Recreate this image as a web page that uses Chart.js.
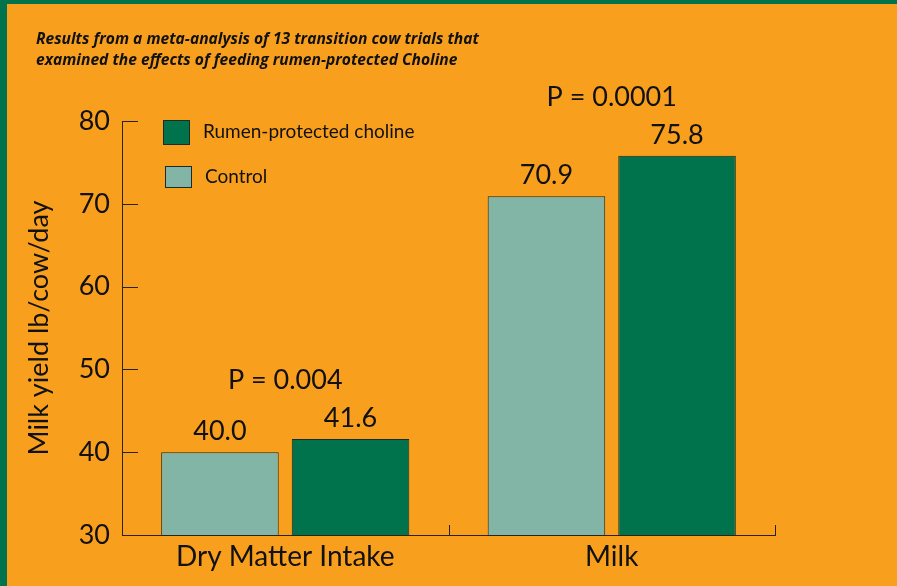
<!DOCTYPE html>
<html>
<head>
<meta charset="utf-8">
<script src="https://cdn.jsdelivr.net/npm/chart.js@4"></script>
<style>
  html, body { margin: 0; padding: 0; background: #F99F1E; }
  #wrap { width: 897px; height: 586px; }
</style>
</head>
<body>
<div id="wrap"><canvas id="c" width="897" height="586"></canvas></div>
<script>
/* choline meta-analysis chart */

const categories = ['Dry Matter Intake', 'Milk'];
const controlValues = [40.0, 70.9];
const cholineValues = [41.6, 75.8];
const pLabels = ['P = 0.004', 'P = 0.0001'];
const yTicks = [30, 40, 50, 60, 70, 80];
const titleLines = [
    'Results from a meta-analysis of 13 transition cow trials that',
    'examined the effects of feeding rumen-protected Choline'
];

const ORANGE = '#F99F1E';
const GREEN = '#00734C';
const LIGHT = '#82B5A5';
const INK = '#111111';
const FONT = 'Lato, "Noto Sans", sans-serif';

const decor = {
    id: 'decor',
    beforeDraw(chart) {
        const ctx = chart.ctx;
        ctx.save();
        ctx.fillStyle = ORANGE;
        ctx.fillRect(0, 0, chart.width, chart.height);
        ctx.fillStyle = GREEN;
        ctx.fillRect(0, 0, chart.width, 4);
        ctx.fillRect(0, 0, 7, chart.height);

        // heading
        ctx.fillStyle = INK;
        ctx.font = 'italic bold 15.6px "Open Sans", sans-serif';
        ctx.textBaseline = 'alphabetic';
        ctx.textAlign = 'left';
        titleLines.forEach((t, i) => ctx.fillText(t, 36, 44 + i * 21));
        ctx.restore();
    },
    afterDraw(chart) {
        const ctx = chart.ctx;
        const y = chart.scales.y, x = chart.scales.x;
        const area = chart.chartArea;
        ctx.save();
        ctx.strokeStyle = '#2a2418';
        ctx.lineWidth = 1;

        // y ticks point inward
        yTicks.forEach(v => {
            const py = Math.round(y.getPixelForValue(v)) + 0.5;
            ctx.beginPath();
            ctx.moveTo(area.left, py);
            ctx.lineTo(area.left + 16, py);
            ctx.stroke();
        });

        // category boundary ticks on x axis
        const bounds = [];
        for (let i = 1; i < categories.length; i++) {
            bounds.push((x.getPixelForValue(i - 1) + x.getPixelForValue(i)) / 2);
        }
        bounds.push(area.right);
        bounds.forEach(bx => {
            const px = Math.round(bx) + 0.5;
            ctx.beginPath();
            ctx.moveTo(px, area.bottom);
            ctx.lineTo(px, area.bottom - 10);
            ctx.stroke();
        });

        // value labels
        ctx.fillStyle = INK;
        ctx.font = '27px ' + FONT;
        ctx.textAlign = 'center';
        ctx.textBaseline = 'alphabetic';
        chart.data.datasets.forEach((ds, di) => {
            chart.getDatasetMeta(di).data.forEach((bar, i) => {
                ctx.fillText(ds.data[i].toFixed(1), bar.x, bar.y - 12);
            });
        });

        // P values above each group
        categories.forEach((c, i) => {
            const top = Math.min(...chart.data.datasets.map((ds, di) => chart.getDatasetMeta(di).data[i].y));
            ctx.fillText(pLabels[i], x.getPixelForValue(i), top - 50);
        });

        // legend
        const items = [
            { label: 'Rumen-protected choline', color: GREEN, bx: 163, by: 120, w: 27, h: 25, tx: 203, ty: 132 },
            { label: 'Control', color: LIGHT, bx: 165, by: 166, w: 27, h: 22, tx: 205, ty: 177 }
        ];
        ctx.font = '19px ' + FONT;
        ctx.textAlign = 'left';
        ctx.textBaseline = 'middle';
        items.forEach(it => {
            ctx.fillStyle = it.color;
            ctx.fillRect(it.bx, it.by, it.w, it.h);
            ctx.strokeStyle = '#1e2a24';
            ctx.strokeRect(it.bx + 0.5, it.by + 0.5, it.w - 1, it.h - 1);
            ctx.fillStyle = INK;
            ctx.fillText(it.label, it.tx, it.ty);
        });
        ctx.restore();
    }
};

new Chart(document.getElementById('c'), {
    type: 'bar',
    data: {
        labels: categories,
        datasets: [
            { label: 'Control', data: controlValues, backgroundColor: LIGHT, borderColor: '#1e2a24', borderWidth: 1 },
            { label: 'Rumen-protected choline', data: cholineValues, backgroundColor: GREEN, borderColor: '#1e2a24', borderWidth: 1 }
        ]
    },
    options: {
        responsive: false,
        animation: false,
        devicePixelRatio: 1,
        categoryPercentage: 0.8,
        barPercentage: 0.9,
        layout: { padding: { top: 121, right: 122, left: 0, bottom: 0 } },
        plugins: {
            legend: { display: false },
            tooltip: { enabled: false }
        },
        scales: {
            x: {
                grid: { display: false, drawTicks: false },
                border: { display: true, color: '#2a2418', width: 1 },
                ticks: { color: INK, font: { family: FONT, size: 28 }, padding: 5 },
                afterFit(s) { s.height = 51; }
            },
            y: {
                min: 30,
                max: 80,
                grid: { display: false, drawTicks: false },
                border: { display: true, color: '#2a2418', width: 1 },
                ticks: { stepSize: 10, color: INK, font: { family: FONT, size: 27 }, padding: 12 },
                title: {
                    display: true,
                    text: 'Milk yield lb/cow/day',
                    color: INK,
                    font: { family: FONT, size: 27 },
                    padding: { top: 23, bottom: 0 }
                },
                afterFit(s) { s.width = 122; }
            }
        }
    },
    plugins: [decor]
});
</script>
</body>
</html>
